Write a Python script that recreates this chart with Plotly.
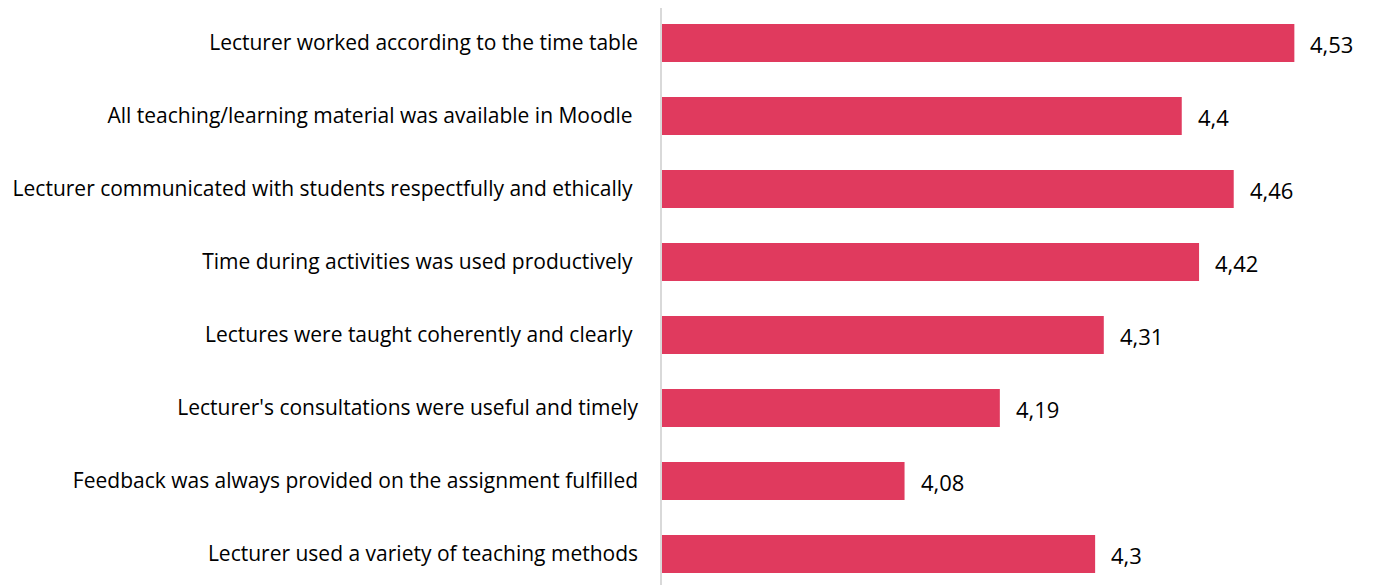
import plotly.graph_objects as go

categories = [
    "Lecturer worked according to the time table",
    "All teaching/learning material was available in Moodle ",
    "Lecturer communicated with students respectfully and ethically ",
    "Time during activities was used productively ",
    "Lectures were taught coherently and clearly ",
    "Lecturer's consultations were useful and timely",
    "Feedback was always provided on the assignment fulfilled",
    "Lecturer used a variety of teaching methods",
]
values = [4.53, 4.4, 4.46, 4.42, 4.31, 4.19, 4.08, 4.3]

# bottom-to-top order for plotly
cats_plot = categories[::-1]
vals_plot = values[::-1]
labels_plot = [f"{v:g}".replace(".", ",") for v in vals_plot]

FONT = "Open Sans"
FS = 21
BAR = "#E03A5E"

fig = go.Figure()
fig.add_trace(go.Bar(
    x=vals_plot, y=cats_plot, orientation="h",
    marker=dict(color=BAR, line=dict(width=0)),
    width=0.52,
    hoverinfo="skip",
))

for c, v, t in zip(cats_plot, vals_plot, labels_plot):
    fig.add_annotation(x=v, y=c, text=t, showarrow=False, xanchor="left",
                       xshift=14, yshift=-1,
                       font=dict(family=FONT, size=22, color="#000000"))

fig.update_layout(
    width=1375, height=585,
    margin=dict(l=654, r=28, t=0, b=8, pad=0),
    paper_bgcolor="white", plot_bgcolor="white",
    showlegend=False,
    xaxis=dict(range=[3.8, 4.6], showgrid=False, zeroline=False,
               showticklabels=False, showline=False, ticks=""),
    yaxis=dict(range=[-0.425, 7.479], showgrid=False, zeroline=False,
               showline=True, linecolor="#d9d9d9", linewidth=1.5,
               ticks="", ticklabelstandoff=18, automargin=False,
               tickfont=dict(family=FONT, size=FS, color="#000000")),
)

fig.write_html("out.html")
